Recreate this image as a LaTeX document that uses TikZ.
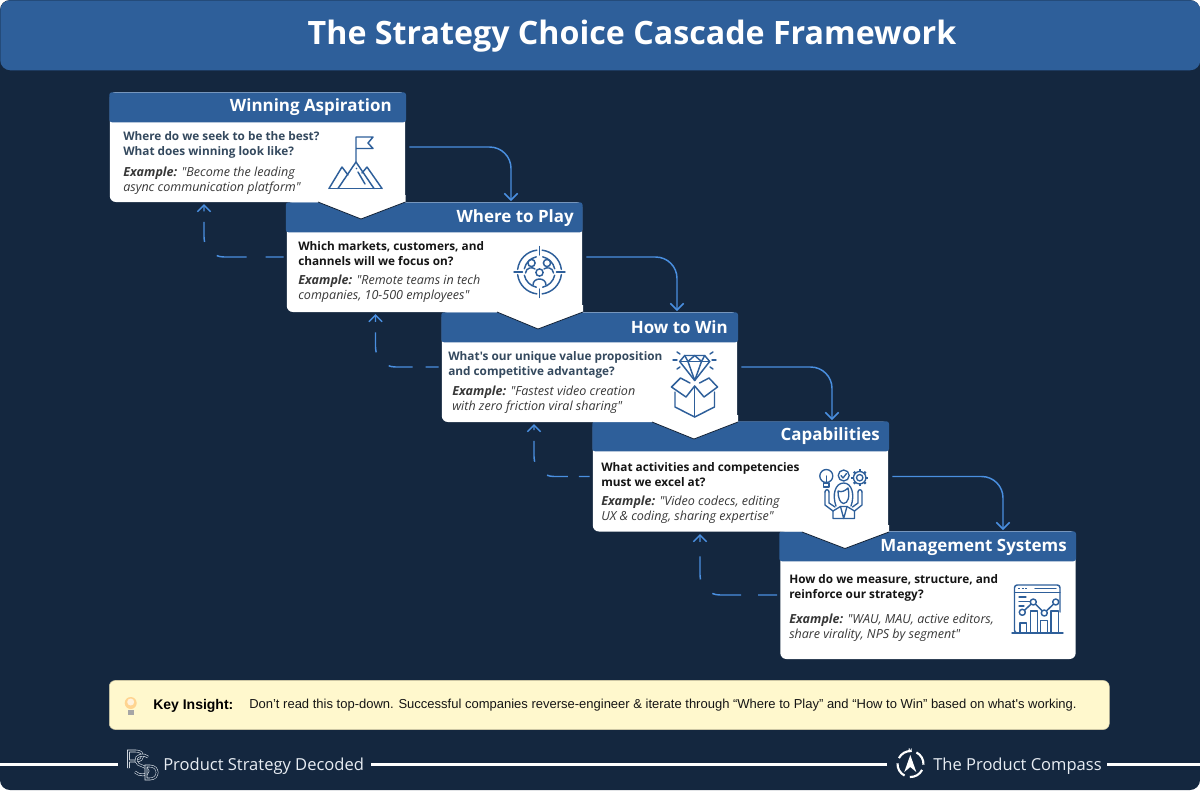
\documentclass[tikz,border=0pt]{standalone}
\usepackage{fontspec}
\newfontfamily\cardfont{Open Sans}
\newfontfamily\arialfont{Liberation Sans}
\usetikzlibrary{arrows.meta, positioning, calc}
\definecolor{navy}{HTML}{14273F}
\definecolor{headblue}{HTML}{2E5F9A}
\definecolor{linkblue}{HTML}{4A8FE0}
\definecolor{slate}{HTML}{34495E}
\definecolor{inkblack}{HTML}{151515}
\definecolor{notecream}{HTML}{FFF8CD}
\definecolor{footwhite}{HTML}{E8EDF3}
\tikzset{
  cardbox/.style ={rectangle, fill=white, inner sep=0pt, minimum width=221.5pt,
               minimum height=82.5pt, rounded corners=4.5pt},
  notch/.style ={fill=white},
  notchedge/.style ={draw=navy!85!black, line width=0.6pt},
  head/.style  ={rectangle, fill=headblue, anchor=north west, inner sep=0pt,
               minimum width=222.6pt, minimum height=22.5pt, rounded corners=2pt},
  headtxt/.style ={anchor=east, inner sep=0pt, text=white,
               font=\cardfont\bfseries\fontsize{12.7}{16}\selectfont},
  ask/.style ={anchor=west, inner sep=0pt, align=left,
               font=\cardfont\bfseries\fontsize{8.84}{11.25}\selectfont},
  sample/.style ={anchor=west, inner sep=0pt, align=left, text=inkblack!85,
               font=\cardfont\itshape\fontsize{9.4}{11.25}\selectfont},
  icon/.style ={draw=headblue, line width=1.1pt, line cap=round, line join=round},
  arr/.style ={-{Straight Barb[length=5pt, width=10pt]}, draw=linkblue, line width=1.1pt,
               rounded corners=16pt, shorten <=3pt},
  back/.style ={-{Straight Barb[length=5pt, width=10pt]}, draw=linkblue, line width=1.1pt,
               rounded corners=15pt, shorten <=2.25pt},
  footline/.style ={draw=white, line width=2.2pt},
  foottxt/.style ={anchor=west, inner sep=0pt, text=footwhite,
               font=\cardfont\fontsize{12.4}{15}\selectfont},
  mono/.style ={draw=footwhite, line width=0.4pt, double=navy, double distance=1.1pt}
}
\begin{document}
\begin{tikzpicture}[x=0.75pt, y=-0.75pt]
    \useasboundingbox (0,0) rectangle (1200,790);
    \fill[white] (0,0) rectangle (1200,790);
    \fill[navy, rounded corners=7.5pt] (0,0) rectangle (1200,790);
    \node[rectangle, fill=headblue, rounded corners=7.5pt, inner sep=0pt, minimum width=900pt,
          minimum height=52.5pt, anchor=north west] (banner) at (0,0) {};
    \node[text=white, inner sep=0pt, font=\cardfont\bfseries\fontsize{24.15}{28}\selectfont]
          (title) at (632,36) {The Strategy Choice Cascade Framework};

    % cards, last one first so each notch lies over the next header
    \node[cardbox, minimum height=96pt] (ms) at (928,595) {};
    \node[head] (msH) at (779,531) {};
    \node[headtxt] (msT) at (1067,547) {Management Systems};
    \node[ask, text=inkblack] (msQ) at (789,588) {How do we measure, structure, and\\reinforce our strategy?};
    \node[sample] (msE) at (789,628) {\textbf{Example:} "WAU, MAU, active editors,\\share virality, NPS by segment"};

    \node[cardbox] (cp) at (740.5,476.5) {};
    \fill[notch] (802,532) -- (845,548.5) -- (889,532) -- (889,525) -- (802,525) -- cycle;
    \draw[notchedge] (802,532) -- (845,548.5) -- (889,532);
    \node[head] (cpH) at (592,421) {};
    \node[headtxt] (cpT) at (880,436.5) {Capabilities};
    \node[ask, text=inkblack] (cpQ) at (601,474.5) {What activities and competencies\\must we excel at?};
    \node[sample] (cpE) at (601,509.5) {\textbf{Example:} "Video codecs, editing\\UX \& coding, sharing expertise"};

    \node[cardbox] (hw) at (589.5,367) {};
    \fill[notch] (652,422) -- (694,439) -- (738,422) -- (738,415) -- (652,415) -- cycle;
    \draw[notchedge] (652,422) -- (694,439) -- (738,422);
    \node[head] (hwH) at (441,312) {};
    \node[headtxt] (hwT) at (728,327.5) {How to Win};
    \node[ask, text=slate] (hwQ) at (448,365) {What's our unique value proposition\\and competitive advantage?};
    \node[sample] (hwE) at (452,399.5) {\textbf{Example:} "Fastest video creation\\with zero friction viral sharing"};

    \node[cardbox] (wp) at (434.5,257) {};
    \fill[notch] (497,312) -- (538,329) -- (583,312) -- (583,305) -- (497,305) -- cycle;
    \draw[notchedge] (497,312) -- (538,329) -- (583,312);
    \node[head] (wpH) at (285.5,202) {};
    \node[headtxt] (wpT) at (574,218) {Where to Play};
    \node[ask, text=inkblack] (wpQ) at (298,254) {Which markets, customers, and\\channels will we focus on?};
    \node[sample] (wpE) at (298,288.5) {\textbf{Example:} "Remote teams in tech\\companies, 10-500 employees"};

    \node[cardbox] (wa) at (257.5,147) {};
    \fill[notch] (318,202) -- (361,219) -- (405.5,202) -- (405.5,195) -- (318,195) -- cycle;
    \draw[notchedge] (318,202) -- (361,219) -- (405.5,202);
    \node[head] (waH) at (109,92) {};
    \node[headtxt] (waT) at (392,107.5) {Winning Aspiration};
    \node[ask, text=slate] (waQ) at (123,144.5) {Where do we seek to be the best?\\What does winning look like?};
    \node[sample] (waE) at (123,180.5) {\textbf{Example:} "Become the leading\\async communication platform"};

    % where the connectors land
    \coordinate (wpIn) at (511,201);
    \coordinate (hwIn) at (677,311);
    \coordinate (cpIn) at (832,420);
    \coordinate (msIn) at (1003,530);
    \coordinate (waBack) at (204,204);
    \coordinate (wpBack) at (375.5,314);
    \coordinate (hwBack) at (534,424);
    \coordinate (cpBack) at (700,534);

    \draw[arr] (wa.east) -| (wpIn);
    \draw[arr] (wp.east) -| (hwIn);
    \draw[arr] (hw.east) -| (cpIn);
    \draw[arr] (cp.east) -| (msIn);
    \draw[back, dash pattern=on 13.5pt off 14.25pt on 22.5pt off 14.25pt on 15pt off 8pt on 30pt off 1pt] (wp.west) -| (waBack);
    \draw[back, dash pattern=on 9.75pt off 9.75pt on 18pt off 14.25pt on 15pt off 8pt on 30pt off 1pt] (hw.west) -| (wpBack);
    \draw[back, dash pattern=on 8pt off 8.25pt on 15.75pt off 14.25pt on 15.75pt off 8pt on 30pt off 1pt] (cp.west) -| (hwBack);
    \draw[back, dash pattern=on 14.25pt off 12.75pt on 21.75pt off 14.25pt on 17.25pt off 11pt on 30pt off 1pt] (ms.west) -| (cpBack);

    % flag on the peaks
    \draw[icon] (356,162) -- (356,137) -- (373,137) -- (368,143) -- (373,148.5) -- (356,148.5);
    \draw[icon] (329,188.5) -- (382,188.5);
    \draw[icon] (338,188.5) -- (356,162) -- (374,188.5);
    \draw[icon] (329,188.5) -- (342,167) -- (348,175);
    \draw[icon] (382,188.5) -- (367,167) -- (362,173);
    \draw[icon] (358,172) -- (365,184);
    \fill[headblue] (356.5,168.5) circle[radius=0.8];

    % target with people
    \foreach \a in {0,90,180,270} {
      \draw[icon] (539.5,272)+(\a+7:22) arc[start angle=\a+7, end angle=\a+83, radius=22];
      \draw[icon] (539.5,272)+(\a+12:15.5) arc[start angle=\a+12, end angle=\a+78, radius=15.5];
      \draw[icon] (539.5,272)+(\a:17) -- +(\a:25.5);
    }
    \draw[icon] (531.5,263) circle[radius=3.6];
    \draw[icon] (547,263) circle[radius=3.6];
    \draw[icon] (539.5,272.5) circle[radius=3.6];
    \draw[icon] (533,285) .. controls (533,277) and (546,277) .. (546,285);
    \draw[icon] (525.5,273) .. controls (526,267) and (533,267) .. (535,269);
    \draw[icon] (553.5,273) .. controls (553,267) and (546,267) .. (544,269);

    % diamond over an open box
    \draw[icon] (684.7,355.5) -- (704.7,355.5) -- (709.7,361.5) -- (694.7,380.5) -- (679.7,361.5) -- cycle;
    \draw[icon] (679.7,361.5) -- (709.7,361.5);
    \draw[icon] (684.7,355.5) -- (688,361.5) -- (694.7,380.5) -- (701.5,361.5) -- (704.7,355.5);
    \draw[icon] (688,361.5) -- (694.7,355.5) -- (701.5,361.5);
    \draw[icon] (673,360) -- (677,360);
    \draw[icon] (712,360) -- (716,360);
    \draw[icon] (677,352) -- (680,354);
    \draw[icon] (713,352) -- (710,354);
    \draw[icon] (677,369) -- (680,367);
    \draw[icon] (713,369) -- (710,367);
    \draw[icon] (675,392) -- (675,407) -- (694.7,417) -- (714.5,407) -- (714.5,392);
    \draw[icon] (694.7,386) -- (694.7,417);
    \draw[icon] (671.5,387) -- (680.5,378) -- (690,383);
    \draw[icon] (717.5,387) -- (709,378) -- (699.5,383);
    \draw[icon] (671.5,387) -- (686,397) -- (694.7,386) -- (704,397) -- (717.5,387);

    % person with bulb, tick and gear
    \draw[icon, line width=1pt] (826.3,476) circle[radius=6.5];
    \draw[icon, line width=1pt] (823.5,483) -- (829,483) -- (829,487) -- (823.5,487) -- cycle;
    \draw[icon, line width=1pt] (826.3,476) -- (826.3,482);
    \draw[icon, line width=1pt] (843.7,475.5) circle[radius=5.5];
    \draw[icon, line width=1pt] (841,475.5) -- (843,478) -- (846.5,473.5);
    \draw[icon, line width=1pt] (859.7,477.7) circle[radius=3.2];
    \draw[icon, line width=1pt] (859.7,477.7) circle[radius=6.2];
    \foreach \a in {0,45,...,315} {
      \draw[icon, line width=1.7pt, line cap=butt] (859.7,477.7)+(\a:6) -- +(\a:8.4);
    }
    \draw[icon, line width=1pt] (836,506) .. controls (832,495) and (835,483) .. (843.7,483) .. controls (852,483) and (855,495) .. (851,506);
    \draw[icon, line width=1pt] (838,491) .. controls (842,493) and (846,490) .. (848,488) .. controls (850,497) and (848,503) .. (843.7,503.5) .. controls (840,503) and (838,498) .. (838,491);
    \draw[icon, line width=1pt] (833,518.5) -- (833,511) -- (840.5,506.5) -- (847,506.5) -- (854.5,511) -- (854.5,518.5) -- cycle;
    \draw[icon, line width=1pt] (840.5,506.5) -- (843.7,518.5) -- (847,506.5);
    \draw[icon, line width=1pt] (825,492) -- (825,505) -- (833,511);
    \draw[icon, line width=1pt] (829,492) -- (829,503) -- (835,507);
    \draw[icon, line width=1pt] (825,492) .. controls (825,489) and (829,489) .. (829,492);
    \draw[icon, line width=1pt] (862,492) -- (862,505) -- (854.5,511);
    \draw[icon, line width=1pt] (858,492) -- (858,503) -- (852.5,507);
    \draw[icon, line width=1pt] (858,492) .. controls (858,489) and (862,489) .. (862,492);

    % dashboard window
    \draw[icon, rounded corners=2pt] (1016,633) -- (1014.5,633) -- (1014.5,585) -- (1060,585) -- (1060,612);
    \draw[icon] (1014.5,592.5) -- (1060,592.5);
    \draw[icon] (1012,633) -- (1063,633);
    \draw[icon] (1035,588.7) -- (1056,588.7);
    \draw[icon, dash pattern=on 1.5pt off 1.2pt, line cap=butt] (1018,588.7) -- (1028,588.7);
    \draw[icon, line width=0.9pt] (1019,597) -- (1026,597);
    \draw[icon, line width=0.9pt] (1019,601.5) -- (1031,601.5);
    \draw[icon, line width=0.9pt] (1019,606) -- (1024,606);
    \draw[icon] (1020,633) -- (1020,623) -- (1026.7,623) -- (1026.7,633);
    \draw[icon] (1030.7,633) -- (1030.7,611) -- (1037.3,611) -- (1037.3,633);
    \draw[icon] (1040.7,633) -- (1040.7,620.7) -- (1047.3,620.7) -- (1047.3,633);
    \draw[icon] (1051,633) -- (1051,611) -- (1058.3,611) -- (1058.3,633);
    \draw[icon] (1022.3,612.3) -- (1033.3,602) -- (1044.3,613) -- (1055.7,602);
    \foreach \p in {(1022.3,612.3),(1033.3,602),(1044.3,613),(1055.7,602)} {
      \draw[icon, fill=white] \p circle[radius=3];
    }

    % key insight strip
    \node[rectangle, fill=notecream, draw=notecream!80!black, line width=0.4pt, rounded corners=4.5pt,
          inner sep=0pt, minimum width=750pt, minimum height=36.75pt, anchor=west] (note) at (109,705) {};
    \fill[notecream!70!orange] (130.7,703) circle[radius=6];
    \fill[white, opacity=0.7] (130.7,702) circle[radius=3.5];
    \fill[gray!70] (128,709.5) rectangle (133.5,714.5);
    \node[anchor=west, inner sep=0pt, font=\arialfont\bfseries\fontsize{10.5}{13}\selectfont, text=black]
          (noteKey) at (153,705.5) {Key Insight:};
    \node[anchor=west, inner sep=0pt, font=\arialfont\fontsize{9.75}{13}\selectfont, text=inkblack]
          (noteTxt) at (249,705.5) {Don’t read this top-down. Successful companies reverse-engineer \& iterate through “Where to Play” and “How to Win” based on what's working.};

    % footer
    \draw[footline] (0,764.5) -- (118,764.5);
    \draw[footline] (371,764.5) -- (887,764.5);
    \draw[footline] (1107,764.5) -- (1200,764.5);
    \draw[mono] (128.5,768) -- (128.5,751) -- (136,751) .. controls (145,751) and (145,761) .. (136,761) -- (128.5,761);
    \draw[mono] (148,757) .. controls (144,753) and (135,755) .. (136,761) .. controls (137,767) and (148,765) .. (148,771) .. controls (148,776) and (139,776) .. (135,772);
    \draw[mono] (146,766) -- (146,779) -- (150,779) .. controls (159.5,779) and (159.5,766) .. (150,766) -- cycle;
    \node[foottxt] (psd) at (163,766) {Product Strategy Decoded};
    \foreach \a in {-75,15,105,195} {
      \draw[white, line width=1.6pt] (910.5,764)+(\a+12:13) arc[start angle=\a+12, end angle=\a+78, radius=13];
    }
    \fill[white] (910.3,755) -- (916.3,772) -- (910.3,767) -- (904.3,772) -- cycle;
    \node[inner sep=0pt, text=white, font=\cardfont\bfseries\fontsize{3.8}{4}\selectfont] (north) at (910.5,750.5) {N};
    \node[foottxt] (compass) at (933,766) {The Product Compass};
  \end{tikzpicture}
\end{document}
